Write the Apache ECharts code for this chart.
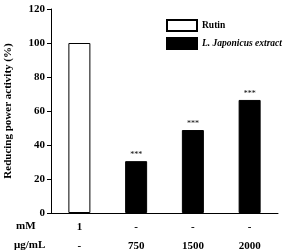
<!DOCTYPE html>
<html lang="en">
<head>
  <meta charset="UTF-8">
  <title>Reducing power</title>
  <script src="https://cdn.jsdelivr.net/npm/echarts@6/dist/echarts.min.js"></script>
</head>
<body style="margin:0">
  <div id="chart" style="width:287px;height:251px"></div>
  <script>
    const categories = ['c1', 'c2', 'c3', 'c4']
    const mMRow = ['1', '-', '-', '-']
    const ugRow = ['-', '750', '1500', '2000']
    const rutin = [100, '-', '-', '-']
    const extract = ['-', 30.5, 48.8, 66.5]
    const yTicks = [0, 20, 40, 60, 80, 100, 120]

    const font = 'Liberation Serif'
    const myChart = echarts.init(document.getElementById('chart'))
    const option = {
      animation: false,
      textStyle: { fontFamily: font },
      grid: { left: 51, right: 9, top: 9, bottom: 38, outerBoundsMode: 'none' },
      legend: {
        orient: 'vertical',
        left: 166,
        top: 19,
        padding: 0,
        icon: 'rect',
        itemWidth: 30,
        itemHeight: 11,
        itemGap: 5,
        textStyle: { fontFamily: font, fontSize: 9.5, fontWeight: 'bold', color: '#000' },
        formatter: function (name) {
          return name === 'Rutin' ? name : '{i|' + name + '}'
        },
        data: ['Rutin', 'L. Japonicus extract']
      },
      xAxis: {
        type: 'category',
        data: categories,
        axisLine: { lineStyle: { color: '#000', width: 1 } },
        axisTick: { show: false },
        axisLabel: {
          interval: 0,
          margin: 5,
          fontFamily: font,
          fontSize: 11,
          fontWeight: 'bold',
          color: '#000',
          lineHeight: 19,
          formatter: function (v, i) { return mMRow[i] + '\n' + ugRow[i] }
        }
      },
      yAxis: {
        type: 'value',
        min: yTicks[0],
        max: yTicks[yTicks.length - 1],
        interval: 20,
        name: 'Reducing power activity (%)',
        nameLocation: 'middle',
        nameGap: 37,
        nameTextStyle: { fontFamily: font, fontSize: 11, fontWeight: 'bold', color: '#000' },
        splitLine: { show: false },
        axisLine: { show: true, lineStyle: { color: '#000', width: 1 } },
        axisTick: { show: true, inside: false, length: 4, lineStyle: { color: '#000' } },
        axisLabel: { fontFamily: font, fontSize: 11, fontWeight: 'bold', color: '#000', margin: 6 }
      },
      series: [
        {
          name: 'Rutin',
          type: 'bar',
          stack: 'a',
          data: rutin,
          barWidth: 22,
          itemStyle: { color: '#fff', borderColor: '#000', borderWidth: 1 }
        },
        {
          name: 'L. Japonicus extract',
          type: 'bar',
          stack: 'a',
          data: extract,
          barWidth: 22,
          itemStyle: { color: '#000', borderColor: '#000', borderWidth: 1 },
          label: {
            show: true,
            position: 'top',
            distance: 2,
            formatter: '***',
            fontSize: 8,
            color: '#000'
          }
        }
      ],
      graphic: [
        {
          type: 'text', left: 16, top: 221,
          style: { text: 'mM', fontFamily: font, fontSize: 11, fontWeight: 'bold', fill: '#000' }
        },
        {
          type: 'text', left: 14, top: 240,
          style: { text: 'μg/mL', fontFamily: font, fontSize: 11, fontWeight: 'bold', fill: '#000' }
        }
      ]
    }
    option.legend.textStyle.rich = { i: { fontFamily: font, fontSize: 9.5, fontWeight: 'bold', fontStyle: 'italic', color: '#000' } }
    myChart.setOption(option)
  </script>
</body>
</html>
